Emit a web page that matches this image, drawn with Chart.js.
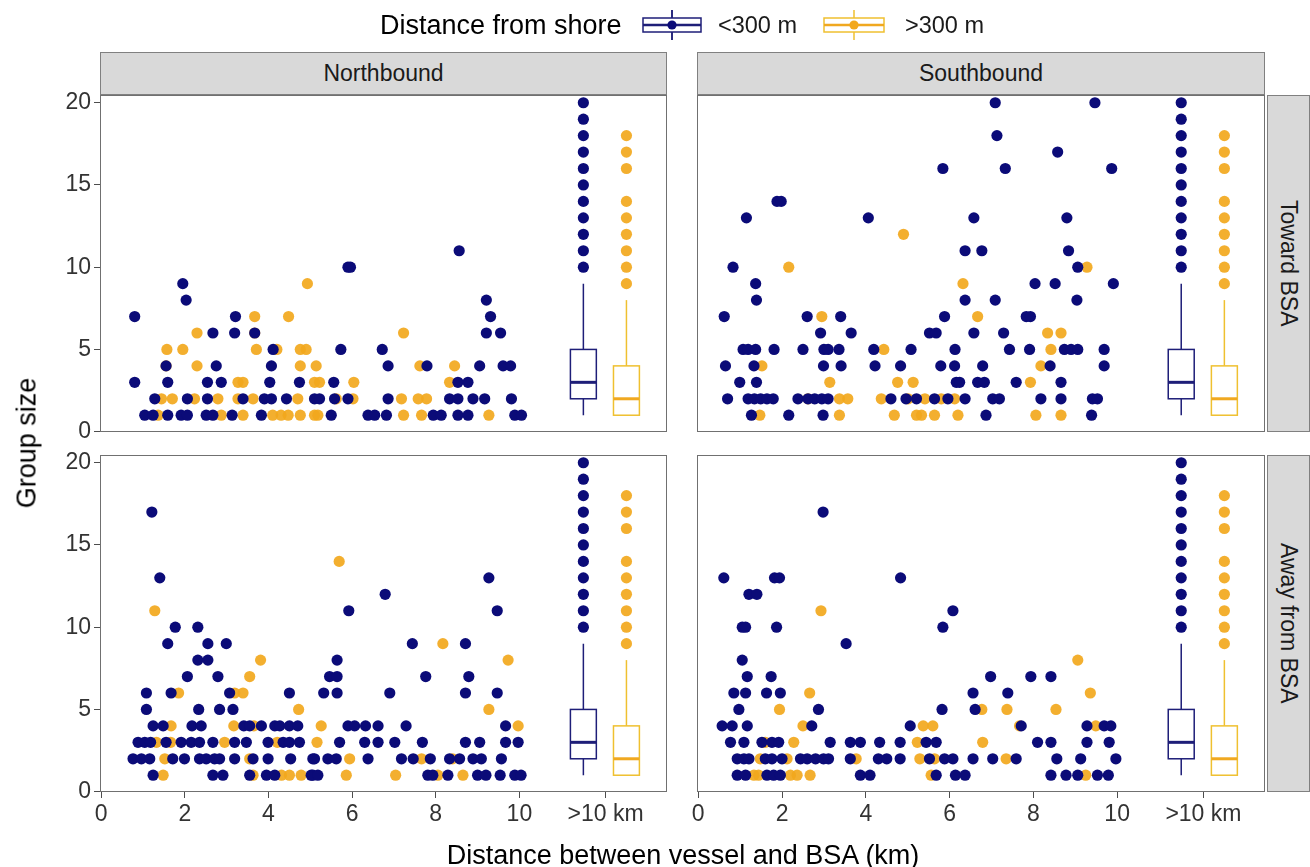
<!DOCTYPE html>
<html>
<head>
<meta charset="utf-8">
<title>Group size by distance between vessel and BSA</title>
<script src="https://cdn.jsdelivr.net/npm/chart.js@4.4.1/dist/chart.umd.min.js"></script>
<style>
  html, body { margin: 0; padding: 0; background: #ffffff; }
  body { width: 1310px; height: 867px; position: relative; overflow: hidden;
         font-family: "Liberation Sans", Arial, Helvetica, sans-serif; color: #1a1a1a; }
  canvas { position: absolute; left: 0; top: 0; }
  .strip { position: absolute; background: #d9d9d9; border: 1px solid #808080; box-sizing: border-box;
           font-size: 23px; color: #1a1a1a; display: flex; align-items: center; justify-content: center; z-index: 5; }
  .strip.side span { writing-mode: vertical-rl; }
  .txt { position: absolute; white-space: nowrap; z-index: 5; }
  #ytitle { left: 27px; top: 443px; font-size: 27px; color: #000; transform: translate(-50%, -50%) rotate(-90deg); }
  #xtitle { left: 683px; top: 855px; font-size: 27px; color: #000; transform: translate(-50%, -50%); }
  #legtitle { left: 380px; top: 25px; font-size: 27px; color: #000; transform: translateY(-50%); }
  .legtext { font-size: 23.5px; color: #1a1a1a; top: 25px; transform: translateY(-50%); }
  svg.key { position: absolute; z-index: 5; }
</style>
</head>
<body>

<canvas id="pNT" width="1310" height="867"></canvas>
<canvas id="pST" width="1310" height="867"></canvas>
<canvas id="pNA" width="1310" height="867"></canvas>
<canvas id="pSA" width="1310" height="867"></canvas>

<div class="strip" style="left:100px;top:52px;width:567px;height:43px;">Northbound</div>
<div class="strip" style="left:697px;top:52px;width:568px;height:43px;">Southbound</div>
<div class="strip side" style="left:1267px;top:95px;width:43px;height:337px;"><span>Toward BSA</span></div>
<div class="strip side" style="left:1267px;top:455px;width:43px;height:337px;"><span>Away from BSA</span></div>

<div class="txt" id="ytitle">Group size</div>
<div class="txt" id="xtitle">Distance between vessel and BSA (km)</div>

<div class="txt" id="legtitle">Distance from shore</div>
<svg class="key" style="left:641px;top:10px;" width="62" height="30">
  <line x1="31" y1="0" x2="31" y2="30" stroke="#1e1e78" stroke-width="1.5"/>
  <rect x="2" y="8" width="58" height="14" fill="#ffffff" stroke="#1e1e78" stroke-width="1.5"/>
  <line x1="31" y1="0" x2="31" y2="8" stroke="#1e1e78" stroke-width="1.5"/>
  <line x1="2" y1="15" x2="60" y2="15" stroke="#1e1e78" stroke-width="2.5"/>
  <line x1="31" y1="22" x2="31" y2="30" stroke="#1e1e78" stroke-width="1.5"/>
  <circle cx="31" cy="15" r="4.6" fill="#0b0b78"/>
</svg>
<div class="txt legtext" style="left:718px;">&lt;300 m</div>
<svg class="key" style="left:822px;top:10px;" width="64" height="30">
  <rect x="2" y="8" width="60" height="14" fill="#ffffff" stroke="#efc030" stroke-width="1.5"/>
  <line x1="32" y1="0" x2="32" y2="8" stroke="#efc030" stroke-width="1.5"/>
  <line x1="2" y1="15" x2="62" y2="15" stroke="#f0a820" stroke-width="2.5"/>
  <line x1="32" y1="22" x2="32" y2="30" stroke="#efc030" stroke-width="1.5"/>
  <circle cx="32" cy="15" r="4.6" fill="#f2a81d"/>
</svg>
<div class="txt legtext" style="left:905px;">&gt;300 m</div>

<script>
// ---- axis ticks ----
const yTickValues = [0, 5, 10, 15, 20];
const xTickValues = [0, 2, 4, 6, 8, 10, 12.06];
const xTickLabels = ['0', '2', '4', '6', '8', '10', '>10 km'];

// ---- ">10 km" summary boxes (low whisker, Q1, median, Q3, high whisker) ----
const boxCenters = [11.53, 12.56];
const nearBoxStats = [1, 2, 3, 5, 9];
const farBoxStats  = [1, 1, 2, 4, 8];
const nearOutliers = [10, 11, 12, 13, 14, 15, 16, 17, 18, 19, 20];
const farOutliers  = [9, 10, 11, 12, 13, 14, 16, 17, 18];

// ---- sightings within 10 km: [group size, [distances in km]] ----
const northTowardNear = [
  [11, [8.56]], [10, [5.9, 5.96]], [9, [1.95]], [8, [2.03, 9.21]],
  [7, [0.80, 3.21, 9.31]], [6, [2.67, 3.19, 3.67, 9.21, 9.55]], [5, [4.11, 5.73, 6.72]],
  [4, [1.55, 2.75, 4.07, 6.86, 7.79, 9.05, 9.61, 9.79]],
  [3, [0.80, 1.59, 2.54, 2.87, 4.03, 4.74, 5.56, 8.53, 8.77]],
  [2, [1.28, 2.06, 2.54, 3.39, 3.9, 4.07, 4.43, 5.1, 5.22, 5.58, 5.9, 6.86, 8.33, 8.53, 8.89, 9.17, 9.81]],
  [1, [1.04, 1.24, 1.59, 1.91, 2.06, 2.51, 2.67, 3.13, 3.83, 5.5, 6.38, 6.54, 6.82, 7.94, 8.13, 8.53, 8.77, 9.89, 10.05]]
];
const northTowardFar = [
  [9, [4.93]], [7, [3.67, 4.48]], [6, [2.29, 3.67, 7.23]],
  [5, [1.57, 1.95, 3.71, 4.2, 4.76, 4.9]], [4, [1.55, 2.29, 4.76, 5.14, 7.62, 8.45]],
  [3, [3.27, 3.39, 5.1, 5.22, 6.04, 8.33]],
  [2, [1.44, 1.7, 2.23, 2.79, 3.27, 3.63, 4.7, 5.62, 6.02, 7.18, 7.58, 7.78]],
  [1, [1.36, 2.87, 3.39, 4.1, 4.3, 4.47, 4.76, 5.1, 5.18, 7.23, 7.66, 9.27]]
];
const southTowardNear = [
  [20, [7.09, 9.47]], [18, [7.13]], [17, [8.58]], [16, [5.84, 7.33, 9.87]], [14, [1.88, 1.98]],
  [13, [1.15, 4.06, 6.58, 8.8]], [11, [6.37, 6.77, 8.84]], [10, [0.83, 9.06]],
  [9, [1.37, 8.04, 8.52, 9.91]], [8, [1.39, 6.37, 7.09, 9.04]],
  [7, [0.62, 2.6, 3.4, 5.88, 7.83, 7.93]], [6, [2.92, 3.65, 5.52, 5.68, 6.58, 7.29]],
  [5, [1.07, 1.19, 1.37, 1.81, 2.5, 3.0, 3.1, 3.36, 4.19, 5.08, 6.13, 7.43, 7.91, 8.74, 8.9, 9.06, 9.69]],
  [4, [0.65, 1.33, 2.99, 3.41, 4.22, 4.83, 5.79, 6.12, 6.79, 8.4, 9.69]],
  [3, [0.99, 1.39, 6.16, 6.24, 6.67, 6.83, 7.59, 8.66]],
  [2, [0.7, 1.19, 1.34, 1.49, 1.64, 1.79, 2.38, 2.62, 2.78, 2.95, 3.1, 4.6, 4.96, 5.21, 5.64, 5.96, 6.37, 7.03, 7.19, 8.18, 8.66, 9.41, 9.53]],
  [1, [1.27, 2.16, 2.98, 6.87, 9.39]]
];
const southTowardFar = [
  [12, [4.9]], [10, [2.16, 9.28]], [9, [6.32]], [7, [2.95, 6.67]], [6, [8.34, 8.66]],
  [5, [4.43, 8.42]], [4, [1.52, 8.18]], [3, [3.14, 4.76, 5.13, 7.93]],
  [2, [2.62, 3.37, 3.57, 4.37, 5.01, 5.41, 5.8, 6.12]],
  [1, [1.47, 3.37, 4.68, 5.21, 5.33, 5.64, 6.2, 8.06, 8.66]]
];
const northAwayNear = [
  [17, [1.21]], [13, [1.4, 9.27]], [12, [6.79]], [11, [5.92, 9.47]], [10, [1.77, 2.31]],
  [9, [1.59, 2.55, 2.99, 7.44, 8.71]], [8, [2.31, 2.55, 5.64]],
  [7, [2.06, 2.79, 5.46, 5.64, 7.76, 8.79]], [6, [1.08, 1.67, 3.07, 4.5, 5.32, 5.64, 6.9, 8.71, 9.47]],
  [5, [1.08, 2.33, 2.83, 3.15]],
  [4, [1.24, 1.48, 2.17, 2.39, 3.41, 3.55, 3.83, 4.15, 4.27, 4.5, 4.7, 5.9, 6.06, 6.32, 6.62, 7.29, 9.67]],
  [3, [0.88, 1.04, 1.18, 1.55, 1.91, 2.15, 2.35, 2.67, 3.19, 3.47, 3.99, 4.35, 4.5, 4.74, 5.7, 6.3, 6.62, 7.02, 7.68, 8.71, 9.05, 9.67, 9.97]],
  [2, [0.76, 0.96, 1.16, 1.71, 1.99, 2.35, 2.51, 2.71, 2.83, 3.19, 3.63, 3.99, 4.53, 5.06, 5.1, 5.42, 5.62, 6.38, 7.18, 7.46, 7.87, 8.33, 8.57, 8.89, 9.09, 9.57]],
  [1, [1.24, 2.67, 2.91, 3.55, 3.95, 4.15, 5.02, 5.06, 5.18, 7.81, 7.93, 8.29, 9.0, 9.2, 9.54, 9.89, 10.04]]
];
const northAwayFar = [
  [14, [5.69]], [11, [1.28]], [9, [8.17]], [8, [3.81, 9.73]], [7, [3.55]],
  [6, [1.85, 3.19, 3.39]], [5, [4.72, 9.27]], [4, [1.67, 3.17, 3.65, 5.26, 9.97]],
  [3, [1.32, 1.66, 2.95, 4.21, 5.16]], [2, [1.52, 3.55, 5.94, 7.66, 8.4]],
  [1, [1.48, 3.63, 4.31, 4.5, 4.78, 5.86, 7.04, 8.05, 8.65]]
];
const southAwayNear = [
  [17, [2.98]], [13, [0.61, 1.82, 1.94, 4.83]], [12, [1.21, 1.4]], [11, [6.08]],
  [10, [1.05, 1.13, 1.87, 5.84]], [9, [3.53]], [8, [1.05]],
  [7, [1.17, 1.74, 6.98, 7.94, 8.42]], [6, [0.85, 1.13, 1.63, 1.96, 6.56, 7.39]],
  [5, [0.97, 2.87, 5.82, 6.61]], [4, [0.57, 0.81, 1.17, 2.71, 5.06, 7.71, 9.28, 9.69, 9.85]],
  [3, [0.77, 1.09, 1.52, 1.76, 1.92, 3.15, 3.63, 3.87, 4.33, 4.82, 5.44, 5.68, 8.1, 8.42, 9.28, 9.81]],
  [2, [0.93, 1.09, 1.21, 1.6, 1.76, 2.0, 2.44, 2.6, 2.8, 2.99, 3.11, 3.63, 4.3, 4.5, 4.82, 5.52, 5.88, 6.08, 6.56, 7.03, 7.59, 8.56, 9.13, 9.97]],
  [1, [0.93, 1.13, 1.64, 1.8, 1.96, 3.87, 4.1, 5.68, 6.14, 6.37, 8.42, 8.78, 9.06, 9.53, 9.79]]
];
const southAwayFar = [
  [11, [2.93]], [8, [9.06]], [6, [2.66, 9.36]], [5, [1.94, 6.77, 7.37, 8.54]],
  [4, [2.5, 5.37, 5.6, 7.67, 9.49]], [3, [1.6, 2.28, 5.23, 6.79]],
  [2, [1.48, 2.12, 3.77, 5.29, 5.64, 7.35]],
  [1, [1.33, 1.44, 2.2, 2.36, 2.67, 5.56, 9.25]]
];

// ---- colours ----
const nearColor = '#0b0b78';
const farColor = 'rgba(242,168,29,0.92)';
const nearBoxColor = '#1e1e78';
const farBoxColor = '#efc030';
const farMedianColor = '#f0a820';

const toPoints = rows => rows.flatMap(([size, dists]) => dists.map(d => ({ x: d, y: size })));

// draws the ">10 km" box-and-whisker summaries through the chart scales
const boxPlugin = {
  id: 'boxSummary',
  beforeDatasetsDraw(chart) {
    const { ctx, scales: { x, y } } = chart;
    const halfWidth = 0.31;
    const drawBox = (center, stats, line, median) => {
      const [lo, q1, med, q3, hi] = stats;
      const xl = x.getPixelForValue(center - halfWidth);
      const xr = x.getPixelForValue(center + halfWidth);
      const xc = x.getPixelForValue(center);
      ctx.save();
      ctx.strokeStyle = line;
      ctx.lineWidth = 1.5;
      ctx.beginPath();
      ctx.moveTo(xc, y.getPixelForValue(hi)); ctx.lineTo(xc, y.getPixelForValue(q3));
      ctx.moveTo(xc, y.getPixelForValue(q1)); ctx.lineTo(xc, y.getPixelForValue(lo));
      ctx.stroke();
      ctx.fillStyle = '#ffffff';
      const top = y.getPixelForValue(q3), bottom = y.getPixelForValue(q1);
      ctx.fillRect(xl, top, xr - xl, bottom - top);
      ctx.strokeRect(xl, top, xr - xl, bottom - top);
      ctx.strokeStyle = median;
      ctx.lineWidth = 3;
      ctx.beginPath();
      ctx.moveTo(xl, y.getPixelForValue(med)); ctx.lineTo(xr, y.getPixelForValue(med));
      ctx.stroke();
      ctx.restore();
    };
    drawBox(boxCenters[0], nearBoxStats, nearBoxColor, nearBoxColor);
    drawBox(boxCenters[1], farBoxStats, farBoxColor, farMedianColor);
  }
};

// panel border around each facet
const framePlugin = {
  id: 'panelFrame',
  afterDraw(chart) {
    const { ctx, chartArea: a } = chart;
    ctx.save();
    ctx.strokeStyle = '#707070';
    ctx.lineWidth = 1;
    ctx.strokeRect(Math.round(a.left) + 0.5, Math.round(a.top) + 0.5,
                   Math.round(a.right - a.left) - 1, Math.round(a.bottom - a.top) - 1);
    ctx.restore();
  }
};

const tickFont = { family: '"Liberation Sans", Arial, sans-serif', size: 23 };

function makePanel(id, near, far, opts) {
  const datasets = [
    { data: toPoints(near), backgroundColor: nearColor },
    { data: nearOutliers.map(v => ({ x: boxCenters[0], y: v })), backgroundColor: nearColor },
    { data: toPoints(far), backgroundColor: farColor },
    { data: farOutliers.map(v => ({ x: boxCenters[1], y: v })), backgroundColor: farColor }
  ];
  datasets.forEach(d => { d.pointRadius = 5.6; d.borderWidth = 0; d.pointHoverRadius = 5.6; });

  const gridTicks = { display: true, drawOnChartArea: false, drawTicks: true, tickLength: 6, color: '#4d4d4d', lineWidth: 1 };

  new Chart(document.getElementById(id), {
    type: 'scatter',
    data: { datasets },
    options: {
      responsive: false,
      animation: false,
      devicePixelRatio: 1,
      events: [],
      layout: { padding: opts.padding },
      plugins: { legend: { display: false }, tooltip: { enabled: false } },
      scales: {
        x: {
          type: 'linear', min: -0.03, max: 13.53,
          display: opts.showX,
          afterFit: s => { if (opts.showX) s.height = 60; },
          afterBuildTicks: s => { s.ticks = xTickValues.map(v => ({ value: v })); },
          grid: gridTicks,
          border: { display: false },
          ticks: { autoSkip: false, maxRotation: 0, padding: 3, color: '#333333', font: tickFont,
                   callback: (v, i) => xTickLabels[i] }
        },
        y: {
          type: 'linear', min: -0.02, max: 20.47,
          display: opts.showY,
          afterFit: s => { if (opts.showY) s.width = 60; },
          afterBuildTicks: s => { s.ticks = yTickValues.map(v => ({ value: v })); },
          grid: gridTicks,
          border: { display: false },
          ticks: { autoSkip: false, padding: 3, color: '#333333', font: tickFont }
        }
      }
    },
    plugins: [boxPlugin, framePlugin]
  });
}

makePanel('pNT', northTowardNear, northTowardFar,
  { showX: false, showY: true, padding: { left: 40, top: 95, right: 643, bottom: 435 } });
makePanel('pST', southTowardNear, southTowardFar,
  { showX: false, showY: false, padding: { left: 697, top: 95, right: 45, bottom: 435 } });
makePanel('pNA', northAwayNear, northAwayFar,
  { showX: true, showY: true, padding: { left: 40, top: 455, right: 643, bottom: 15 } });
makePanel('pSA', southAwayNear, southAwayFar,
  { showX: true, showY: false, padding: { left: 697, top: 455, right: 45, bottom: 15 } });
</script>
</body>
</html>
